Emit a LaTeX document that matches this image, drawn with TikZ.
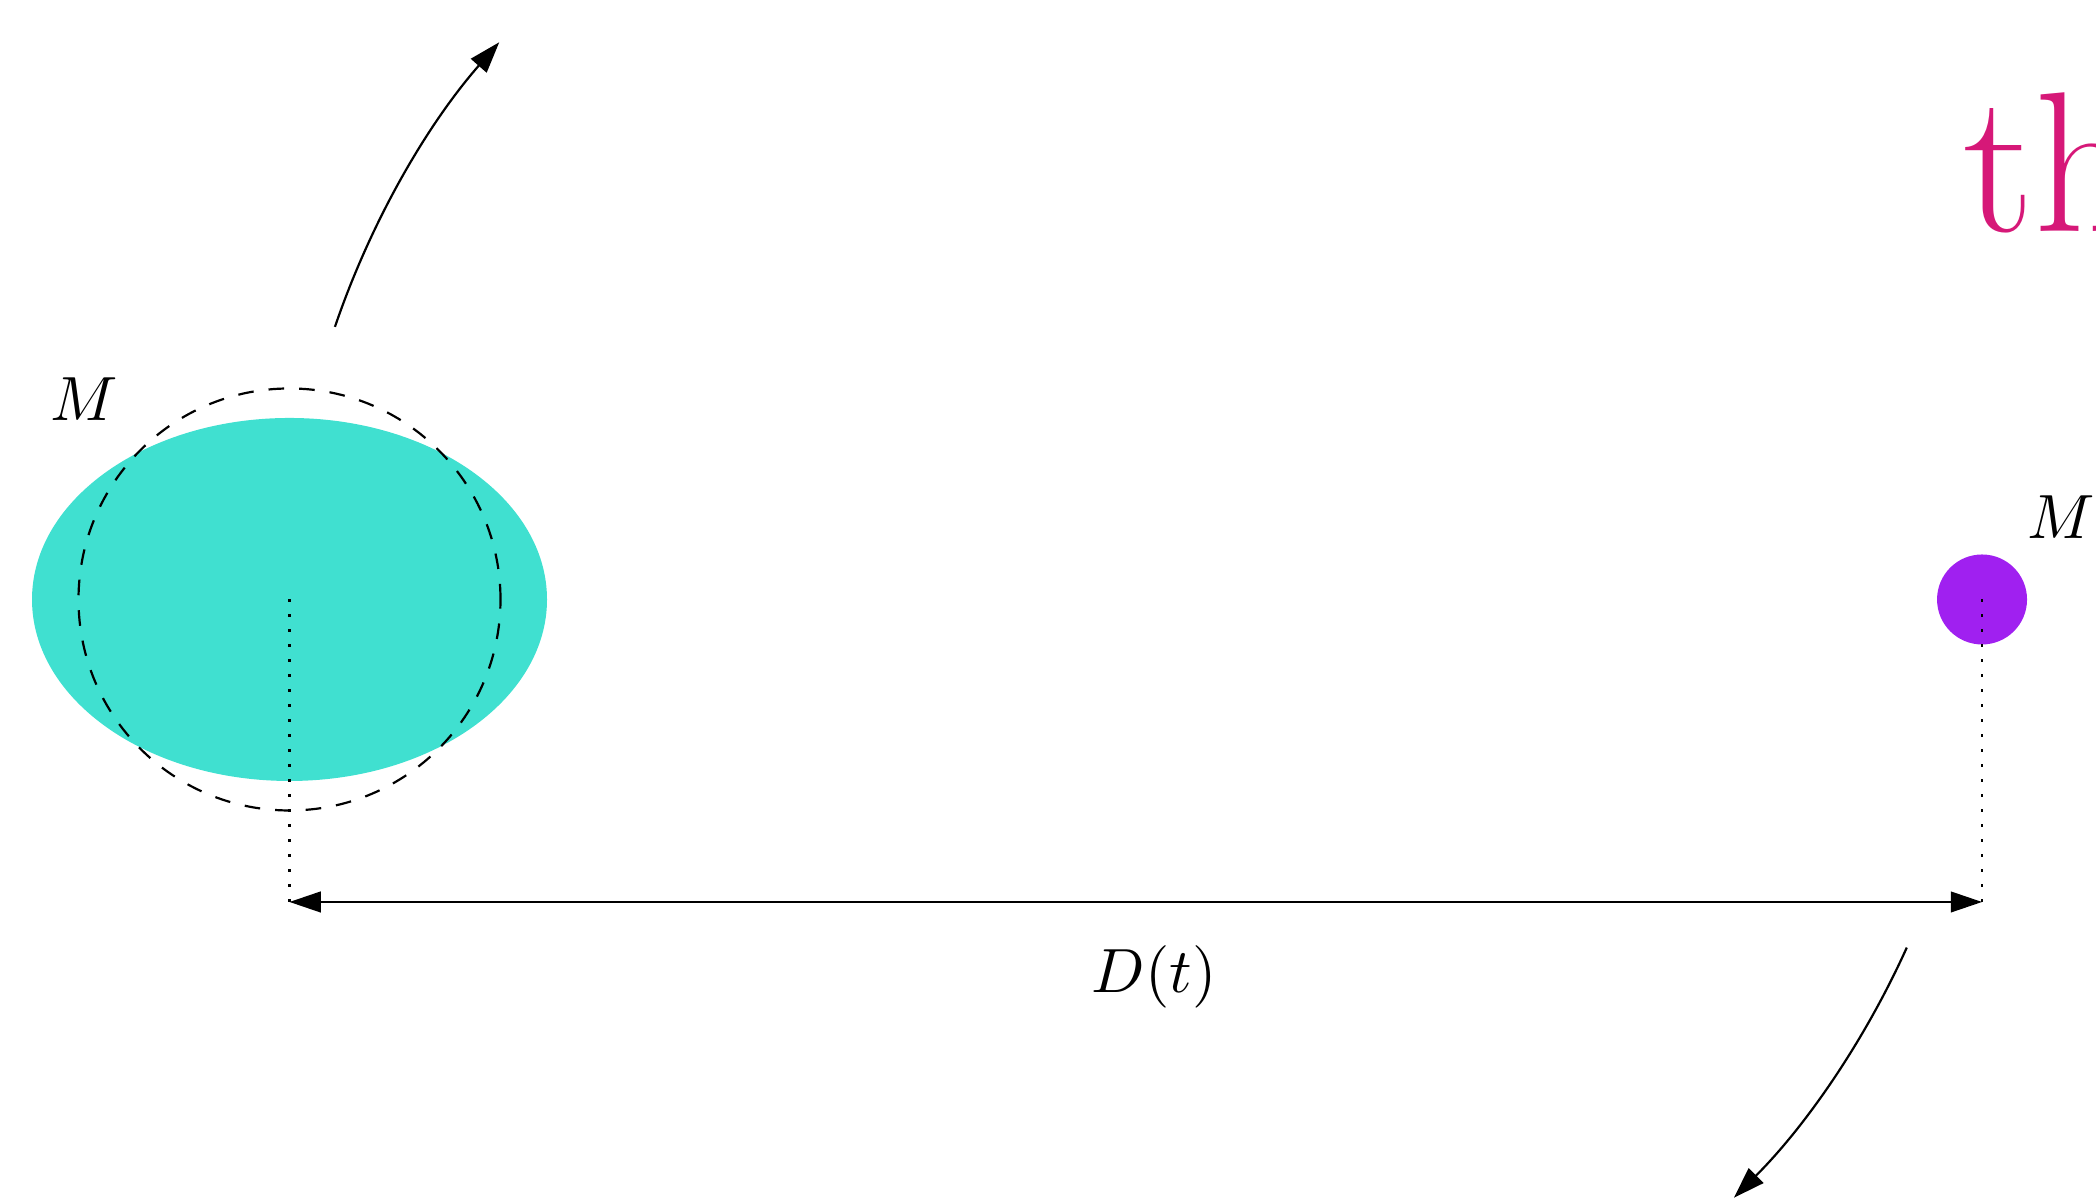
\documentclass[tikz,border=0pt]{standalone}
\usetikzlibrary{arrows.meta}
\definecolor{turq}{RGB}{64,224,208}
\definecolor{purp}{RGB}{160,32,240}
\definecolor{pinkt}{RGB}{214,24,120}
\begin{document}
\begin{tikzpicture}[x=0.16pt,y=0.16pt,
  conn/.style={line width=0.35pt,-{Triangle[length=5pt,width=3.3pt]}},
  guide/.style={line width=0.4pt,dash pattern=on 0.4pt off 2pt},
  orbit/.style={line width=0.35pt,dash pattern=on 2.5pt off 2.4pt},
  lbl/.style={inner sep=0pt,font=\fontsize{10}{12}\selectfont}]
\useasboundingbox (0,0) rectangle (2096,1204);
\clip (0,0) rectangle (2096,1204);
% centres
\coordinate (cL) at (289.5,604.5);
\coordinate (cR) at (1982,604.5);
\coordinate (cM) at (1135.75,604.5);
\coordinate (pL) at (289.5,302);
\coordinate (pR) at (1982,302);
% bodies
\fill[turq] (cL) ellipse[x radius=257.5,y radius=181.5];
\draw[orbit] (cL) circle[radius=211];
\fill[purp] (cR) circle[radius=45];
% guides
\draw[guide] (cL) -- (pL);
\draw[guide] (cR) -- (pR);
\draw[line width=0.35pt,{Triangle[length=5pt,width=3.3pt]}-{Triangle[length=5pt,width=3.3pt]}] (pL) -- (pR);
% orbital arcs
\coordinate (a1) at ([shift={(161.2:135.36pt)}]cM);
\coordinate (a2) at ([shift={(-24.3:135.36pt)}]cM);
\draw[conn] (a1) arc[start angle=161.2,end angle=138.8,radius=135.36pt];
\draw[conn] (a2) arc[start angle=-24.3,end angle=-45,radius=135.36pt];
% labels
\node[lbl,anchor=base west] (mL) at (49,783) {$M$};
\node[lbl,anchor=base west] (mR) at (2026,665) {$M$};
\node[lbl,anchor=base] (dt) at (1154,211) {$D(t)$};
\node[inner sep=0pt,anchor=base west,text=pinkt,font=\fontsize{32}{38}\selectfont] (th) at (1962,972) {th};
\end{tikzpicture}
\end{document}
